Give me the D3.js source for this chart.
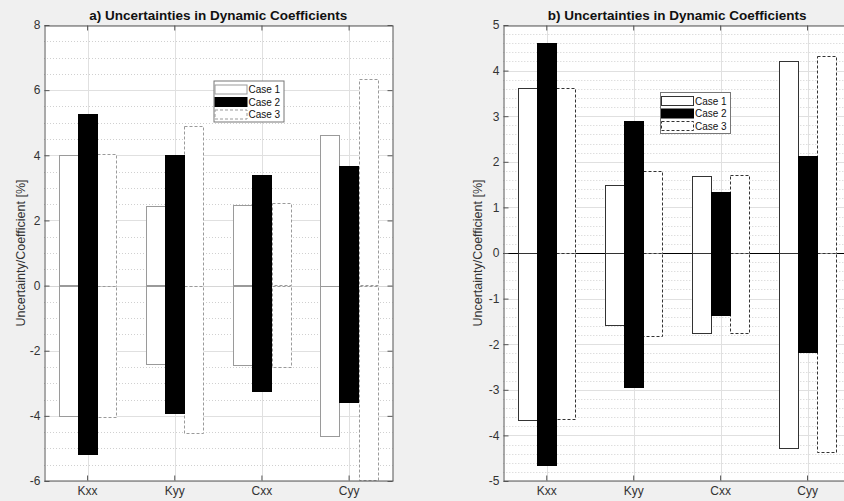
<!DOCTYPE html>
<html>
<head>
<meta charset="utf-8">
<script src="https://cdn.jsdelivr.net/npm/d3@7"></script>
<style>
  html, body { margin: 0; padding: 0; background: #f0f0f0; }
  svg { display: block; font-family: "Liberation Sans", Arial, Helvetica, sans-serif; }
</style>
</head>
<body>
<svg id="fig" width="844" height="501"></svg>
<script>
// ---- data ----
const categories = ["Kxx", "Kyy", "Cxx", "Cyy"];
const caseNames = ["Case 1", "Case 2", "Case 3"];

// panel a) upper / lower uncertainty bounds [%]
const aCase1Upper = [4.00, 2.43, 2.47, 4.63];
const aCase1Lower = [-4.00, -2.38, -2.42, -4.62];
const aCase2Upper = [5.26, 4.02, 3.39, 3.68];
const aCase2Lower = [-5.17, -3.91, -3.22, -3.55];
const aCase3Upper = [4.05, 4.90, 2.53, 6.33];
const aCase3Lower = [-4.03, -4.52, -2.50, -5.97];
const aTicks = [-6, -4, -2, 0, 2, 4, 6, 8];

// panel b) upper / lower uncertainty bounds [%]
const bCase1Upper = [3.61, 1.50, 1.69, 4.22];
const bCase1Lower = [-3.67, -1.57, -1.75, -4.27];
const bCase2Upper = [4.61, 2.90, 1.33, 2.13];
const bCase2Lower = [-4.65, -2.94, -1.37, -2.17];
const bCase3Upper = [3.61, 1.80, 1.70, 4.33];
const bCase3Lower = [-3.65, -1.82, -1.75, -4.37];
const bTicks = [-5, -4, -3, -2, -1, 0, 1, 2, 3, 4, 5];

const svg = d3.select("#fig");

function drawPanel(opt) {
  const { left, right, top, bottom, yDomain, ticks, minorStep, upper, lower,
          title, edge, dashEdge, zeroColor, legendPos } = opt;
  const g = svg.append("g");

  const x = d3.scaleBand().domain(categories).range([left, right]).paddingInner(0).paddingOuter(0);
  const y = d3.scaleLinear().domain(yDomain).range([bottom, top]);
  const groupW = x.bandwidth() * 0.667;
  const xs = d3.scaleBand().domain(caseNames).range([0, groupW]);

  // axes area
  g.append("rect").attr("x", left).attr("y", top)
    .attr("width", right - left).attr("height", bottom - top).attr("fill", "#fff");

  // minor horizontal grid (dotted)
  const minor = d3.range(yDomain[0], yDomain[1] + 1e-9, minorStep)
    .filter(v => !ticks.some(t => Math.abs(t - v) < 1e-6));
  g.append("g").selectAll("line").data(minor).join("line")
    .attr("x1", left).attr("x2", right)
    .attr("y1", d => Math.round(y(d)) + 0.5).attr("y2", d => Math.round(y(d)) + 0.5)
    .attr("stroke", "#d0d0d0").attr("stroke-width", 1).attr("stroke-dasharray", "1,2");

  // major grid
  g.append("g").selectAll("line").data(ticks).join("line")
    .attr("x1", left).attr("x2", right)
    .attr("y1", d => Math.round(y(d)) + 0.5).attr("y2", d => Math.round(y(d)) + 0.5)
    .attr("stroke", "#e0e0e0").attr("stroke-width", 1);
  g.append("g").selectAll("line").data(categories).join("line")
    .attr("x1", d => Math.round(x(d) + x.bandwidth() / 2) + 0.5)
    .attr("x2", d => Math.round(x(d) + x.bandwidth() / 2) + 0.5)
    .attr("y1", top).attr("y2", bottom)
    .attr("stroke", "#e0e0e0").attr("stroke-width", 1);

  // zero reference line
  g.append("line").attr("x1", left).attr("x2", right)
    .attr("y1", Math.round(y(0)) + 0.5).attr("y2", Math.round(y(0)) + 0.5)
    .attr("stroke", zeroColor).attr("stroke-width", 1);

  // bars: one rect above zero and one below zero for every case
  const styles = [
    { fill: "#fff", stroke: edge, dash: null },
    { fill: "#000", stroke: "#000", dash: null },
    { fill: "#fff", stroke: dashEdge, dash: "3,2" }
  ];
  const barData = [];
  caseNames.forEach((c, ci) => {
    categories.forEach((cat, k) => {
      [upper[ci][k], lower[ci][k]].forEach(v => {
        barData.push({ c, ci, cat, v });
      });
    });
  });
  // draw the dashed case last so its outline stays visible
  const order = [0, 2, 1];
  order.forEach(ci => {
    g.append("g").selectAll("rect").data(barData.filter(d => d.ci === ci)).join("rect")
      .attr("x", d => Math.round(x(d.cat) + (x.bandwidth() - groupW) / 2 + xs(d.c)) + 0.5)
      .attr("width", Math.round(xs.bandwidth()))
      .attr("y", d => Math.round(y(Math.max(0, d.v))) + 0.5)
      .attr("height", d => Math.round(Math.abs(y(d.v) - y(0))))
      .attr("fill", styles[ci].fill)
      .attr("stroke", styles[ci].stroke)
      .attr("stroke-width", 1)
      .attr("stroke-dasharray", styles[ci].dash);
  });

  // axes
  const axisColor = "#555";
  const yAxis = g.append("g").attr("transform", `translate(${Math.round(left) + 0.5},0)`)
    .call(d3.axisLeft(y).tickValues(ticks).tickSizeInner(-5).tickSizeOuter(0).tickPadding(4)
      .tickFormat(d => d < 0 ? "-" + Math.abs(d) : d));
  const yAxisR = g.append("g").attr("transform", `translate(${Math.round(right) - 0.5},0)`)
    .call(d3.axisRight(y).tickValues(ticks).tickSizeInner(-5).tickSizeOuter(0).tickFormat(""));
  const xAxis = g.append("g").attr("transform", `translate(0,${Math.round(bottom) - 0.5})`)
    .call(d3.axisBottom(x).tickSizeInner(-5).tickSizeOuter(0).tickPadding(6));
  const xAxisT = g.append("g").attr("transform", `translate(0,${Math.round(top) + 0.5})`)
    .call(d3.axisTop(x).tickSizeInner(-5).tickSizeOuter(0).tickFormat(""));
  [yAxis, yAxisR, xAxis, xAxisT].forEach(a => {
    a.select(".domain").attr("stroke", axisColor);
    a.selectAll(".tick line").attr("stroke", axisColor);
    a.selectAll("text").attr("fill", "#333").attr("font-size", "12px")
      .attr("font-family", "'Liberation Sans', Arial, sans-serif");
  });

  // y label
  g.append("text")
    .attr("transform", `translate(${opt.ylabelX},${(top + bottom) / 2}) rotate(-90)`)
    .attr("text-anchor", "middle").attr("dominant-baseline", "central")
    .attr("font-size", "12.5px").attr("fill", "#333")
    .text("Uncertainty/Coefficient [%]");

  // title
  g.append("text").attr("x", (left + right) / 2).attr("y", top - 5)
    .attr("text-anchor", "middle").attr("font-size", "13.5px").attr("font-weight", "bold")
    .attr("fill", "#111").text(title);

  // legend
  const lg = g.append("g").attr("transform", `translate(${legendPos[0]},${legendPos[1]})`);
  lg.append("rect").attr("x", 0.5).attr("y", 0.5).attr("width", 70).attr("height", 41)
    .attr("fill", "#fff").attr("stroke", "#777");
  caseNames.forEach((c, i) => {
    const yy = 4 + i * 12.5;
    lg.append("rect").attr("x", 1.5).attr("y", yy + 0.5).attr("width", 32).attr("height", 9)
      .attr("fill", styles[i].fill).attr("stroke", styles[i].stroke)
      .attr("stroke-dasharray", styles[i].dash);
    lg.append("text").attr("x", 35).attr("y", yy + 5).attr("dominant-baseline", "central")
      .attr("font-size", "10px").attr("fill", "#111").text(c);
  });
}

drawPanel({
  left: 44, right: 392.7, top: 25, bottom: 481,
  yDomain: [-6, 8], ticks: aTicks, minorStep: 0.5,
  upper: [aCase1Upper, aCase2Upper, aCase3Upper],
  lower: [aCase1Lower, aCase2Lower, aCase3Lower],
  title: "a) Uncertainties in Dynamic Coefficients",
  edge: "#9a9a9a", dashEdge: "#9a9a9a", zeroColor: "#d6d6d6",
  ylabelX: 21, legendPos: [213.5, 80.5]
});

drawPanel({
  left: 503.3, right: 851, top: 25, bottom: 481,
  yDomain: [-5, 5], ticks: bTicks, minorStep: 0.2,
  upper: [bCase1Upper, bCase2Upper, bCase3Upper],
  lower: [bCase1Lower, bCase2Lower, bCase3Lower],
  title: "b) Uncertainties in Dynamic Coefficients",
  edge: "#333", dashEdge: "#333", zeroColor: "#000",
  ylabelX: 478, legendPos: [660, 92]
});
</script>
</body>
</html>
